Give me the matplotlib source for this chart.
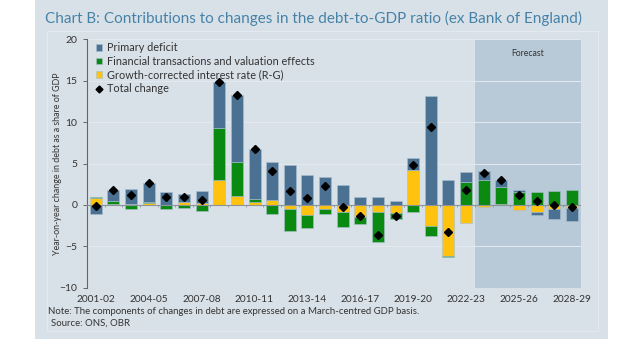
import numpy as np
import matplotlib.pyplot as plt
from matplotlib.patches import Rectangle
from matplotlib.lines import Line2D

plt.rcParams['font.family'] = ['Lato', 'DejaVu Sans']

years = ["2001-02", "2002-03", "2003-04", "2004-05", "2005-06", "2006-07", "2007-08",
         "2008-09", "2009-10", "2010-11", "2011-12", "2012-13", "2013-14", "2014-15",
         "2015-16", "2016-17", "2017-18", "2018-19", "2019-20", "2020-21", "2021-22",
         "2022-23", "2023-24", "2024-25", "2025-26", "2026-27", "2027-28", "2028-29"]

primary_deficit = [-1.1, 1.3, 1.8, 2.2, 1.5, 1.0, 1.45, 5.6, 8.1, 6.0, 4.55, 4.85, 3.6, 3.4,
                   2.45, 1.0, 0.95, 0.5, 1.4, 13.1, 3.05, 1.2, 1.15, 0.8, 0.3, -0.4, -1.2, -1.6]
financial_valuation = [0.2, 0.3, -0.55, 0.2, -0.5, -0.4, -0.75, 6.35, 4.15, 0.4, -1.05, -2.65,
                       -1.6, -0.6, -1.85, -0.8, -3.7, -0.8, -0.85, -1.25, -0.2, 2.75, 2.95,
                       2.05, 1.5, 1.6, 1.7, 1.75]
growth_corrected_rg = [0.8, 0.15, 0.1, 0.2, 0.0, 0.3, 0.25, 2.95, 1.05, 0.3, 0.6, -0.45, -1.2,
                       -0.5, -0.8, -1.45, -0.8, -0.95, 4.25, -2.5, -6.15, -2.15, -0.2, 0.1,
                       -0.65, -0.8, -0.45, -0.4]
total_change = [-0.1, 1.75, 1.25, 2.6, 1.0, 0.9, 0.55, 14.9, 13.3, 6.7, 4.05, 1.7, 0.85, 2.3,
                -0.25, -1.35, -3.6, -1.3, 4.8, 9.35, -3.25, 1.8, 3.9, 2.95, 1.15, 0.45, 0.0, -0.25]

first_forecast = "2023-24"
tick_labels = ["2001-02", "2004-05", "2007-08", "2010-11", "2013-14", "2016-17",
               "2019-20", "2022-23", "2025-26", "2028-29"]

c_blue = "#4a7192"
c_green = "#0b8a12"
c_yellow = "#ffc20e"
panel_bg = "#d9e1e8"

W, H = 640, 339
fig = plt.figure(figsize=(W / 100, H / 100), dpi=100)
fig.patch.set_facecolor("white")

# background panel with faint inner frame
fig.patches.append(Rectangle((35 / W, 0), (608 - 35) / W, 1, transform=fig.transFigure,
                             facecolor=panel_bg, edgecolor="none", zorder=-10))
fig.patches.append(Rectangle((47 / W, 1 - 331 / H), (598 - 47) / W, (331 - 31) / H,
                             transform=fig.transFigure, facecolor="none",
                             edgecolor="#e3e9ee", lw=0.8, zorder=-9))

fig.text(45 / W, 1 - 18 / H,
         "Chart B: Contributions to changes in the debt-to-GDP ratio (ex Bank of England)",
         color="#4682a8", fontsize=10.95, va="center", ha="left")

ax = fig.add_axes([87 / W, 1 - 287.7 / H, (580.7 - 87) / W, (287.7 - 39.3) / H])
ax.set_facecolor("none")

x = np.arange(len(years))
n = len(years)
ax.set_xlim(-0.5, n - 0.5)
ax.set_ylim(-10, 20)

# forecast shading
f0 = years.index(first_forecast) - 0.5
ax.axvspan(f0, n - 0.5, color="#b8c9d7", zorder=0, lw=0)
ax.text((f0 + n - 0.5) / 2, 18.3, "Forecast", ha="center", va="center",
        fontsize=6.2, color="#333333")

ax.yaxis.grid(True, color="#e4eaef", lw=0.7, zorder=0.5)
ax.set_axisbelow(True)

# stacked components: positives build up, negatives build down
pos_base = np.zeros(n)
neg_base = np.zeros(n)
width = 0.68
for vals, col in [(growth_corrected_rg, c_yellow), (financial_valuation, c_green),
                  (primary_deficit, c_blue)]:
    v = np.array(vals, dtype=float)
    bottom = np.where(v >= 0, pos_base, neg_base)
    ax.bar(x, v, width, bottom=bottom, color=col, edgecolor="#a9bfd0", lw=0.4, zorder=2)
    pos_base += np.where(v > 0, v, 0)
    neg_base += np.where(v < 0, v, 0)

ax.plot(x, total_change, ls="none", marker="D", ms=4.0, color="black", zorder=4)

# zero line with category ticks
ax.axhline(0, color="#8c9399", lw=0.8, zorder=3)
ax.vlines(np.arange(n - 1) + 0.5, -0.25, 0, color="#8c9399", lw=0.6, zorder=3)

for s in ["top", "right", "bottom"]:
    ax.spines[s].set_visible(False)
ax.spines["left"].set_color("#666666")
ax.spines["left"].set_linewidth(0.8)

ax.set_yticks([-10, -5, 0, 5, 10, 15, 20])
ax.tick_params(axis="y", length=3, width=0.7, color="#666666", labelsize=7.5,
               labelcolor="#333333", pad=4)
ax.set_xticks([years.index(t) for t in tick_labels])
ax.set_xticklabels(tick_labels)
ax.tick_params(axis="x", length=0, labelsize=7.3, labelcolor="#333333", pad=5)

fig.text(58 / W, 1 - 163.5 / H, "Year-on-year change in debt as a share of GDP",
         rotation=90, ha="center", va="center", fontsize=6.4, color="#333333")

handles = [Rectangle((0, 0), 1, 1, facecolor=c_blue, edgecolor="#a9bfd0", lw=0.4),
           Rectangle((0, 0), 1, 1, facecolor=c_green, edgecolor="#a9bfd0", lw=0.4),
           Rectangle((0, 0), 1, 1, facecolor=c_yellow, edgecolor="#a9bfd0", lw=0.4),
           Line2D([], [], ls="none", marker="D", ms=3.5, color="black")]
labels = ["Primary deficit", "Financial transactions and valuation effects",
          "Growth-corrected interest rate (R-G)", "Total change"]
ax.legend(handles, labels, loc="upper left", bbox_to_anchor=(0.005, 1.015), frameon=False,
          fontsize=7.8, handlelength=0.6, handleheight=0.6, handletextpad=0.4,
          labelspacing=0.25, borderaxespad=0.2, labelcolor="#333333")

fig.text(48 / W, 1 - 311 / H,
         "Note: The components of changes in debt are expressed on a March-centred GDP basis.",
         fontsize=6.9, color="#333333", va="center", ha="left")
fig.text(51 / W, 1 - 323 / H, "Source: ONS, OBR", fontsize=6.9, color="#333333",
         va="center", ha="left")

fig.savefig("out.png", dpi=100, facecolor=fig.get_facecolor())
